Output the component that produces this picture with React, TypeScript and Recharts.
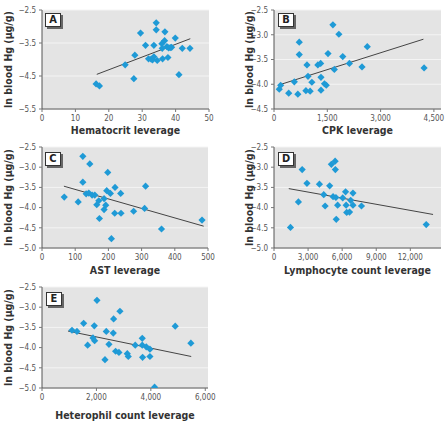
import React from 'react';
import { ScatterChart, Scatter, XAxis, YAxis, CartesianGrid } from 'recharts';

// ---------- DATA ----------
const hematocritX = [16.2, 17.2, 24.9, 27.5, 27.8, 29.5, 31.0, 31.9, 32.7, 33.1, 33.5, 33.5, 34.2, 34.2, 34.5, 35.9, 36.0, 36.1, 36.7, 36.8, 37.4, 37.7, 37.9, 38.4, 38.8, 39.9, 41.0, 42.0, 44.3];
const hematocritY = [-4.74, -4.8, -4.16, -4.58, -3.87, -3.2, -3.57, -3.98, -3.99, -4.01, -3.92, -3.57, -2.89, -3.1, -4.03, -3.52, -3.66, -3.98, -3.43, -3.16, -3.61, -3.94, -3.65, -3.64, -3.63, -3.35, -4.46, -3.66, -3.66];
const hematocritFitX = [16.4, 44.4];
const hematocritFitY = [-4.45, -3.37];

const cpkX = [148, 188, 414, 572, 671, 711, 711, 898, 928, 957, 1017, 1066, 1234, 1313, 1322, 1322, 1421, 1471, 1520, 1658, 1698, 1826, 1935, 2122, 2477, 2625, 4224];
const cpkY = [-4.1, -4.02, -4.18, -3.95, -4.2, -3.15, -3.4, -4.13, -3.61, -3.84, -4.14, -3.96, -3.61, -3.58, -3.86, -4.12, -3.99, -4.02, -3.38, -2.8, -3.7, -2.99, -3.44, -3.58, -3.65, -3.24, -3.67];
const cpkFitX = [158, 4205];
const cpkFitY = [-4.01, -3.09];

const astX = [123, 144, 198, 123, 67, 109, 133, 141, 151, 159, 165, 171, 173, 187, 187, 192, 195, 206, 209, 220, 219, 237, 238, 276, 309, 312, 360, 482];
const astY = [-2.73, -2.92, -3.13, -3.37, -3.74, -3.86, -3.66, -3.64, -3.69, -3.69, -3.93, -3.83, -4.27, -3.78, -4.05, -3.94, -3.58, -3.65, -4.77, -3.5, -4.14, -3.65, -4.14, -4.09, -4.02, -3.47, -4.53, -4.31];
const astFitX = [66, 487];
const astFitY = [-3.47, -4.46];

const lymphX = [1450, 2150, 2480, 2900, 4000, 4500, 4380, 4900, 5050, 5200, 5380, 5400, 5450, 5480, 5600, 6050, 6300, 6350, 6400, 6650, 6750, 6950, 6950, 7700, 13400];
const lymphY = [-4.49, -3.86, -3.06, -3.4, -3.42, -3.96, -3.68, -3.46, -2.93, -3.73, -2.85, -3.06, -3.75, -4.29, -3.94, -3.76, -3.61, -3.94, -4.12, -4.11, -3.82, -3.64, -3.94, -3.96, -4.42];
const lymphFitX = [1300, 14000];
const lymphFitY = [-3.53, -4.17];

const heteroX = [1102, 1285, 1530, 1677, 1873, 1922, 1934, 2020, 2314, 2362, 2460, 2619, 2632, 2705, 2827, 2864, 3134, 3170, 3427, 3684, 3684, 3696, 3831, 3966, 3966, 4137, 4896, 5471];
const heteroY = [-3.57, -3.6, -3.4, -3.94, -3.76, -3.46, -3.83, -2.83, -4.3, -3.6, -3.92, -3.64, -3.29, -4.09, -4.12, -3.1, -4.15, -4.22, -3.94, -3.77, -3.94, -4.24, -3.98, -4.04, -4.22, -4.98, -3.47, -3.89];
const heteroFitX = [955, 5483];
const heteroFitY = [-3.59, -4.22];

const yTitle = 'ln blood Hg (µg/g)';
const xTitles = ['Hematocrit leverage', 'CPK leverage', 'AST leverage', 'Lymphocyte count leverage', 'Heterophil count leverage'];
const letters = ['A', 'B', 'C', 'D', 'E'];

const ticksA_X = [0, 10, 20, 30, 40, 50];
const ticksA_Y = [-5.5, -4.5, -3.5, -2.5];
const ticksB_X = [0, 1500, 3000, 4500];
const ticksB_Y = [-4.5, -4.0, -3.5, -3.0, -2.5];
const ticksC_X = [0, 100, 200, 300, 400, 500];
const ticks5_Y = [-5.0, -4.5, -4.0, -3.5, -3.0, -2.5];
const ticksD_X = [0, 3000, 6000, 9000, 12000];
const ticksE_X = [0, 2000, 4000, 6000];

// ---------- STYLE ----------
const FONT = "'Liberation Sans Narrow','DejaVu Sans Condensed','Roboto Condensed',Arial,sans-serif";
const POINT = '#1f9ad6';
const zip = (xs: number[], ys: number[]) => xs.map((x, i) => ({ x, y: ys[i] }));

const Diamond = (props: any) => {
  const { cx, cy } = props;
  if (cx == null || cy == null) return <g />;
  const r = 3.6;
  return <polygon points={`${cx},${cy - r} ${cx + r},${cy} ${cx},${cy + r} ${cx - r},${cy}`} fill={POINT} />;
};
const NoShape = () => <g />;

const fmtX = (v: number) => v.toLocaleString('en-US');
const fmtY = (v: number) => (v < 0 ? '\u2212' : '') + Math.abs(v).toFixed(1);

type PanelProps = {
  left: number; top: number; width: number; height: number;
  yAxisWidth: number; marginRight: number; marginTop: number; xAxisHeight: number;
  xDomain: [number, number]; xTicks: number[]; yDomain: [number, number]; yTicks: number[];
  points: { x: number; y: number }[]; fit: { x: number; y: number }[];
  xLabel: string; letter: string; letterLeft: number; letterTop: number; yTitleOffset: number;
};

const Panel = (p: PanelProps) => (
  <div style={{ position: 'absolute', left: p.left, top: p.top, width: p.width, height: p.height }}>
    <ScatterChart width={p.width} height={p.height} margin={{ top: p.marginTop, right: p.marginRight, bottom: 0, left: 0 }}>
      <CartesianGrid horizontal={true} vertical={false} fill="#e4e4e4" stroke="#f4f4f4" strokeWidth={1} />
      <XAxis
        type="number" dataKey="x" domain={p.xDomain} ticks={p.xTicks} allowDataOverflow
        height={p.xAxisHeight} tickFormatter={fmtX} tickSize={3} tickMargin={3}
        axisLine={{ stroke: '#555' }} tickLine={{ stroke: '#777' }}
        tick={{ fontSize: 8, fill: '#555', fontFamily: FONT }}
        label={{ value: p.xLabel, position: 'insideBottom', offset: 6, style: { fontSize: 10.5, fontWeight: 'bold', fill: '#333', fontFamily: FONT } }}
      />
      <YAxis
        type="number" dataKey="y" domain={p.yDomain} ticks={p.yTicks} allowDataOverflow
        width={p.yAxisWidth} tickFormatter={fmtY} tickSize={3} tickMargin={3}
        axisLine={{ stroke: '#555' }} tickLine={{ stroke: '#777' }}
        tick={{ fontSize: 8, fill: '#555', fontFamily: FONT }}
        label={{ value: yTitle, angle: -90, position: 'insideLeft', offset: p.yTitleOffset, style: { textAnchor: 'middle', fontSize: 10.5, fontWeight: 'bold', fill: '#333', fontFamily: FONT } }}
      />
      <Scatter data={p.fit} line={{ stroke: '#444', strokeWidth: 1 }} shape={NoShape} isAnimationActive={false} />
      <Scatter data={p.points} shape={Diamond} isAnimationActive={false} />
    </ScatterChart>
    <div style={{
      position: 'absolute', left: p.letterLeft, top: p.letterTop, width: 14, height: 12,
      background: '#fff', border: '1px solid #333', boxShadow: '2px 2px 0 #666',
      fontFamily: FONT, fontWeight: 'bold', fontSize: 11, lineHeight: '12px', textAlign: 'center', color: '#222'
    }}>{p.letter}</div>
  </div>
);

export default function App() {
  return (
    <div style={{ position: 'absolute', left: 0, top: 0, width: 447, height: 425, background: '#fff', overflow: 'hidden' }}>
      <Panel left={0} top={0} width={224} height={140} yAxisWidth={42} marginRight={15} marginTop={10} xAxisHeight={31}
        xDomain={[0, 50]} xTicks={ticksA_X} yDomain={[-5.5, -2.5]} yTicks={ticksA_Y}
        points={zip(hematocritX, hematocritY)} fit={zip(hematocritFitX, hematocritFitY)}
        xLabel={xTitles[0]} letter={letters[0]} letterLeft={45} letterTop={13} yTitleOffset={8} />
      <Panel left={224} top={0} width={223} height={140} yAxisWidth={50} marginRight={6} marginTop={10} xAxisHeight={31}
        xDomain={[0, 4700]} xTicks={ticksB_X} yDomain={[-4.5, -2.5]} yTicks={ticksB_Y}
        points={zip(cpkX, cpkY)} fit={zip(cpkFitX, cpkFitY)}
        xLabel={xTitles[1]} letter={letters[1]} letterLeft={54} letterTop={13} yTitleOffset={25} />
      <Panel left={0} top={140} width={224} height={140} yAxisWidth={42} marginRight={16} marginTop={7} xAxisHeight={32}
        xDomain={[0, 500]} xTicks={ticksC_X} yDomain={[-5, -2.5]} yTicks={ticks5_Y}
        points={zip(astX, astY)} fit={zip(astFitX, astFitY)}
        xLabel={xTitles[2]} letter={letters[2]} letterLeft={45} letterTop={12} yTitleOffset={8} />
      <Panel left={224} top={140} width={223} height={140} yAxisWidth={50} marginRight={6} marginTop={7} xAxisHeight={32}
        xDomain={[0, 14700]} xTicks={ticksD_X} yDomain={[-5, -2.5]} yTicks={ticks5_Y}
        points={zip(lymphX, lymphY)} fit={zip(lymphFitX, lymphFitY)}
        xLabel={xTitles[3]} letter={letters[3]} letterLeft={54} letterTop={12} yTitleOffset={25} />
      <Panel left={0} top={280} width={224} height={145} yAxisWidth={42} marginRight={16} marginTop={7} xAxisHeight={37}
        xDomain={[0, 6100]} xTicks={ticksE_X} yDomain={[-5, -2.5]} yTicks={ticks5_Y}
        points={zip(heteroX, heteroY)} fit={zip(heteroFitX, heteroFitY)}
        xLabel={xTitles[4]} letter={letters[4]} letterLeft={46} letterTop={12} yTitleOffset={8} />
    </div>
  );
}
